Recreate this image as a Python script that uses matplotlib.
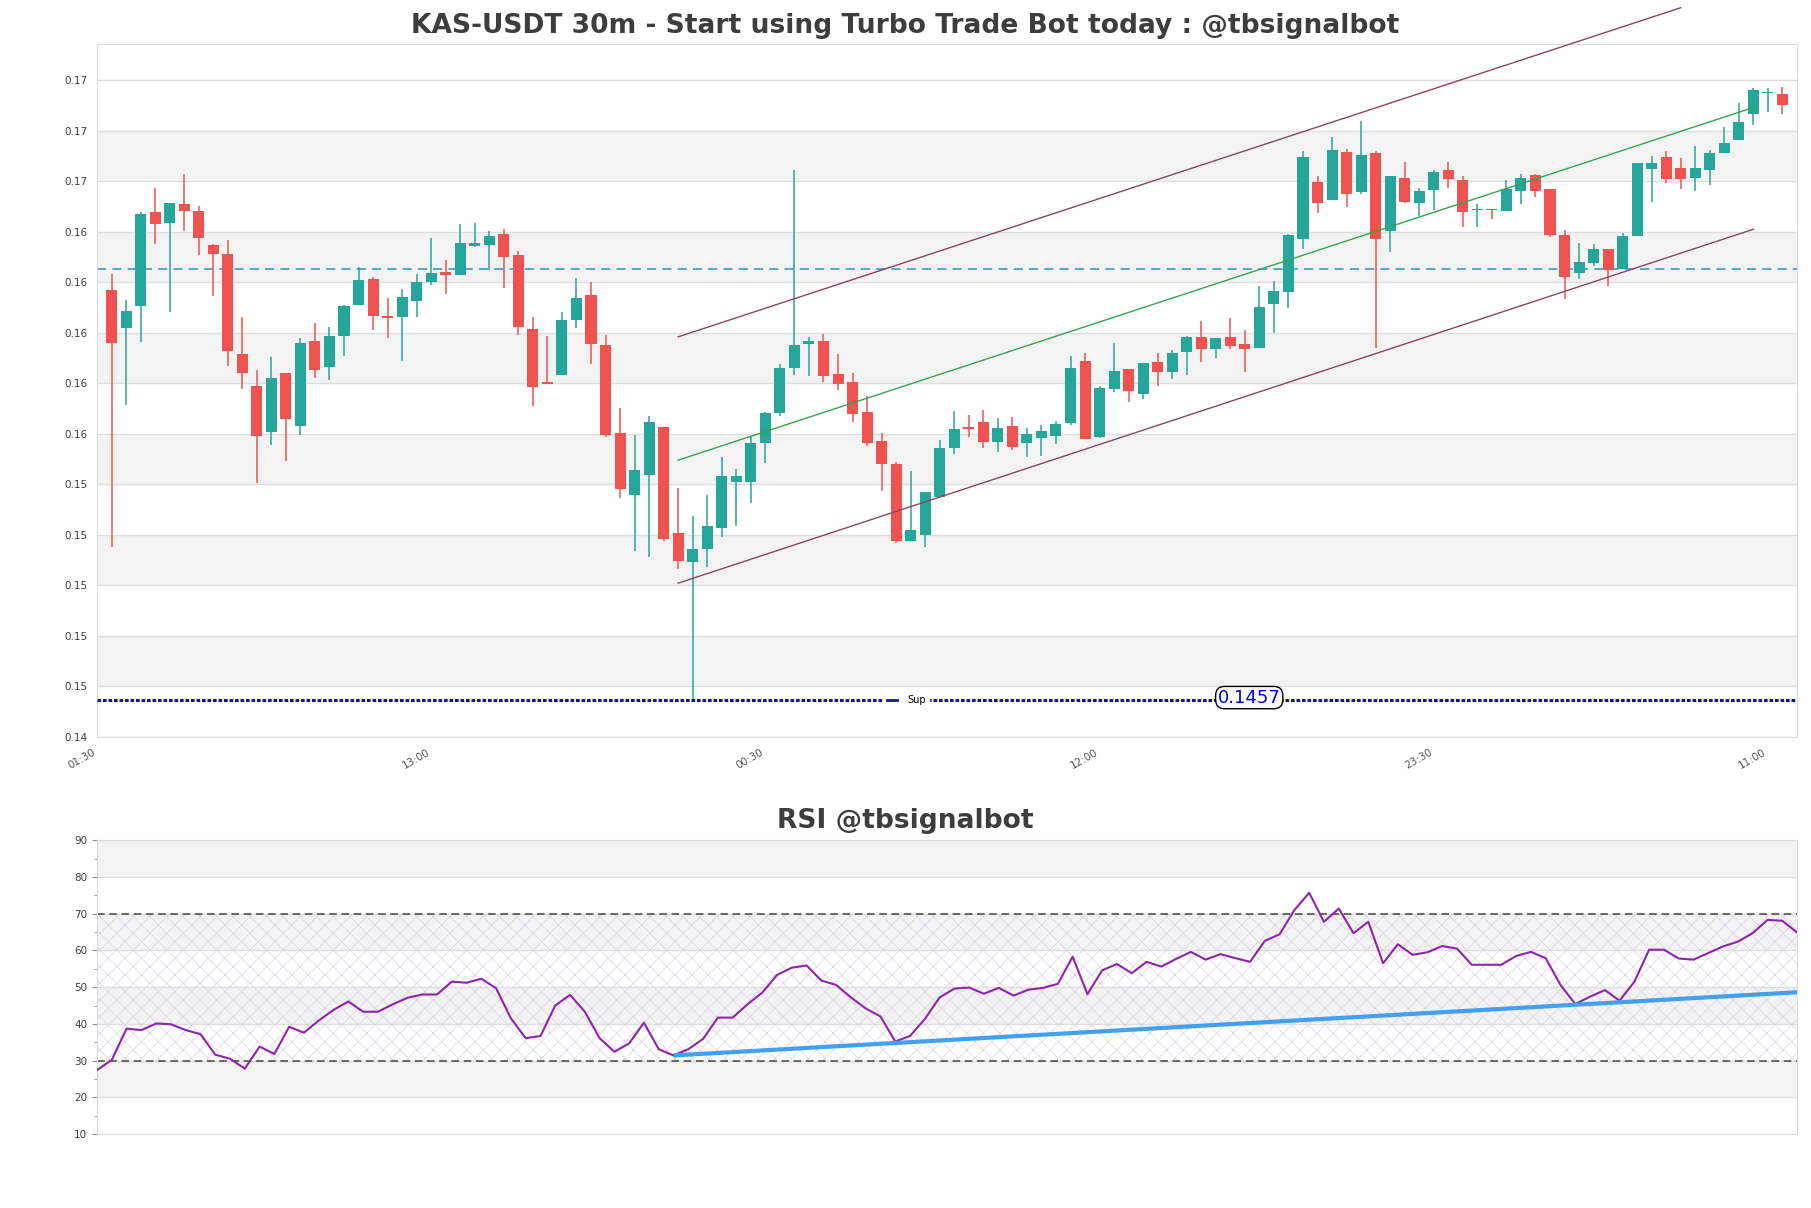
import matplotlib
matplotlib.use('Agg')
import matplotlib.pyplot as plt
from matplotlib.lines import Line2D
import numpy as np

# ---------------- data ----------------
opens = [0.16171, 0.16021, 0.16105, 0.16480, 0.16434, 0.16508, 0.16484, 0.16349, 0.16313, 0.15917,
         0.15790, 0.15609, 0.15842, 0.15633, 0.15969, 0.15863, 0.15986, 0.16109, 0.16214, 0.16065,
         0.16063, 0.16126, 0.16201, 0.16239, 0.16229, 0.16343, 0.16347, 0.16393, 0.16310, 0.16014,
         0.15804, 0.15833, 0.16052, 0.16151, 0.15951, 0.15602, 0.15359, 0.15437, 0.15627, 0.15208,
         0.15094, 0.15146, 0.15229, 0.15408, 0.15408, 0.15562, 0.15681, 0.15859, 0.15954, 0.15969,
         0.15838, 0.15806, 0.15687, 0.15572, 0.15481, 0.15177, 0.15200, 0.15349, 0.15546, 0.15629,
         0.15648, 0.15566, 0.15631, 0.15562, 0.15585, 0.15593, 0.15644, 0.15888, 0.15589, 0.15778,
         0.15856, 0.15758, 0.15884, 0.15845, 0.15924, 0.15982, 0.15936, 0.15982, 0.15955, 0.15940,
         0.16114, 0.16160, 0.16372, 0.16596, 0.16527, 0.16714, 0.16558, 0.16710, 0.16403, 0.16612,
         0.16514, 0.16565, 0.16643, 0.16604, 0.16488, 0.16492, 0.16482, 0.16562, 0.16623, 0.16568,
         0.16386, 0.16237, 0.16278, 0.16330, 0.16251, 0.16383, 0.16647, 0.16697, 0.16654, 0.16612,
         0.16643, 0.16711, 0.16762, 0.16868, 0.16950, 0.16946]
highs = [0.16234, 0.16131, 0.16480, 0.16575, 0.16515, 0.16630, 0.16504, 0.16352, 0.16366, 0.16061,
         0.15854, 0.15905, 0.15842, 0.15979, 0.16040, 0.16024, 0.16111, 0.16259, 0.16220, 0.16139,
         0.16175, 0.16231, 0.16374, 0.16289, 0.16432, 0.16436, 0.16404, 0.16412, 0.16324, 0.16064,
         0.15986, 0.16081, 0.16216, 0.16200, 0.15990, 0.15704, 0.15595, 0.15670, 0.15627, 0.15387,
         0.15275, 0.15358, 0.15509, 0.15461, 0.15593, 0.15688, 0.15877, 0.16644, 0.15982, 0.15996,
         0.15917, 0.15840, 0.15748, 0.15603, 0.15488, 0.15453, 0.15370, 0.15576, 0.15691, 0.15673,
         0.15695, 0.15661, 0.15666, 0.15622, 0.15635, 0.15651, 0.15907, 0.15922, 0.15790, 0.15959,
         0.15856, 0.15880, 0.15920, 0.15932, 0.15989, 0.16047, 0.15980, 0.16057, 0.16010, 0.16184,
         0.16204, 0.16393, 0.16718, 0.16620, 0.16774, 0.16729, 0.16840, 0.16720, 0.16620, 0.16675,
         0.16575, 0.16643, 0.16675, 0.16622, 0.16508, 0.16492, 0.16604, 0.16627, 0.16627, 0.16568,
         0.16409, 0.16355, 0.16351, 0.16330, 0.16395, 0.16674, 0.16701, 0.16721, 0.16693, 0.16741,
         0.16725, 0.16816, 0.16911, 0.16970, 0.16970, 0.16974]
lows = [0.15154, 0.15715, 0.15962, 0.16353, 0.16081, 0.16402, 0.16309, 0.16144, 0.15867, 0.15777,
        0.15407, 0.15554, 0.15494, 0.15596, 0.15823, 0.15814, 0.15910, 0.16109, 0.16012, 0.15978,
        0.15889, 0.16063, 0.16191, 0.16154, 0.16229, 0.16341, 0.16250, 0.16177, 0.15992, 0.15711,
        0.15798, 0.15833, 0.16020, 0.15877, 0.15588, 0.15347, 0.15138, 0.15114, 0.15177, 0.15067,
        0.14548, 0.15072, 0.15193, 0.15237, 0.15328, 0.15486, 0.15669, 0.15834, 0.15831, 0.15807,
        0.15772, 0.15645, 0.15550, 0.15375, 0.15167, 0.15177, 0.15151, 0.15349, 0.15521, 0.15587,
        0.15545, 0.15530, 0.15536, 0.15510, 0.15514, 0.15558, 0.15635, 0.15581, 0.15585, 0.15765,
        0.15727, 0.15739, 0.15790, 0.15818, 0.15832, 0.15885, 0.15901, 0.15936, 0.15845, 0.15940,
        0.16001, 0.16100, 0.16330, 0.16475, 0.16527, 0.16498, 0.16551, 0.15938, 0.16320, 0.16515,
        0.16464, 0.16485, 0.16573, 0.16419, 0.16419, 0.16451, 0.16482, 0.16510, 0.16538, 0.16380,
        0.16132, 0.16212, 0.16264, 0.16186, 0.16251, 0.16383, 0.16517, 0.16592, 0.16568, 0.16561,
        0.16584, 0.16711, 0.16762, 0.16821, 0.16875, 0.16868]
closes = [0.15959, 0.16087, 0.16472, 0.16430, 0.16515, 0.16481, 0.16374, 0.16311, 0.15930, 0.15839,
          0.15593, 0.15822, 0.15657, 0.15961, 0.15851, 0.15988, 0.16107, 0.16210, 0.16065, 0.16059,
          0.16143, 0.16202, 0.16235, 0.16229, 0.16357, 0.16354, 0.16382, 0.16300, 0.16023, 0.15786,
          0.15798, 0.16050, 0.16139, 0.15956, 0.15595, 0.15383, 0.15457, 0.15646, 0.15185, 0.15098,
          0.15144, 0.15235, 0.15434, 0.15434, 0.15564, 0.15683, 0.15862, 0.15953, 0.15969, 0.15831,
          0.15799, 0.15677, 0.15562, 0.15482, 0.15177, 0.15220, 0.15370, 0.15545, 0.15620, 0.15621,
          0.15567, 0.15623, 0.15549, 0.15601, 0.15611, 0.15639, 0.15860, 0.15581, 0.15781, 0.15848,
          0.15770, 0.15880, 0.15845, 0.15919, 0.15982, 0.15934, 0.15978, 0.15948, 0.15934, 0.16101,
          0.16164, 0.16386, 0.16695, 0.16514, 0.16722, 0.16550, 0.16703, 0.16372, 0.16620, 0.16518,
          0.16560, 0.16635, 0.16609, 0.16479, 0.16492, 0.16486, 0.16568, 0.16612, 0.16562, 0.16386,
          0.16222, 0.16279, 0.16330, 0.16249, 0.16382, 0.16674, 0.16674, 0.16608, 0.16608, 0.16654,
          0.16713, 0.16753, 0.16836, 0.16962, 0.16954, 0.16900]

rsi = [27.4, 30.2, 38.7, 38.3, 40.1, 39.9, 38.3, 37.2, 31.6, 30.5,
       27.8, 33.8, 31.8, 39.2, 37.6, 40.9, 43.8, 46.1, 43.3, 43.3,
       45.3, 47.1, 48.0, 48.0, 51.5, 51.2, 52.3, 49.7, 41.5, 36.1,
       36.7, 45.0, 47.9, 43.3, 36.1, 32.4, 34.7, 40.3, 33.1, 31.4,
       33.1, 35.9, 41.7, 41.7, 45.3, 48.5, 53.3, 55.3, 55.9, 51.8,
       50.6, 47.2, 44.2, 42.0, 35.2, 36.7, 41.3, 47.2, 49.6, 49.9,
       48.2, 49.8, 47.7, 49.3, 49.8, 50.9, 58.3, 48.1, 54.6, 56.3,
       53.8, 56.9, 55.6, 57.7, 59.6, 57.5, 59.0, 57.9, 56.9, 62.6,
       64.4, 71.0, 75.7, 67.8, 71.4, 64.7, 67.8, 56.5, 61.7, 58.8,
       59.5, 61.2, 60.5, 56.1, 56.1, 56.1, 58.5, 59.6, 57.9, 50.6,
       45.4, 47.4, 49.2, 46.3, 51.5, 60.2, 60.2, 57.8, 57.5, 59.3,
       61.1, 62.4, 64.7, 68.3, 68.1, 64.9]

xtick_pos = [-1, 22, 45, 68, 91, 114]
xtick_labels = ['01:30', '13:00', '00:30', '12:00', '23:30', '11:00']

support_level = 0.14548
support_label = '0.1457'
support_label_x = 78.3
resistance_level = 0.16253

channel_x = [39, 113]
channel_lower = [0.15009, 0.16410]
channel_mid = [0.15496, 0.16892]
channel_upper_x = [39, 108]
channel_upper = [0.15984, 0.17287]

rsi_trend_x = [39, 115]
rsi_trend_y = [31.4, 48.6]

price_ticks = [0.144, 0.146, 0.148, 0.150, 0.152, 0.154, 0.156, 0.158, 0.160, 0.162, 0.164, 0.166, 0.168, 0.170]
rsi_ticks = [10, 20, 30, 40, 50, 60, 70, 80, 90]

title_main = 'KAS-USDT 30m - Start using Turbo Trade Bot today : @tbsignalbot'
title_rsi = 'RSI @tbsignalbot'

# ---------------- style ----------------
UP = '#26a69a'
DOWN = '#ef5350'
BAND = '#f3f3f3'
GRID = '#dedede'
SPINE = '#dcdcdc'
TXT = '#3d3d3d'

plt.rcParams['font.family'] = ['DejaVu Sans']
plt.rcParams['hatch.linewidth'] = 0.5

fig = plt.figure(figsize=(18.11, 12.08), dpi=100)
ax = fig.add_axes([0.05356, 0.38990, 0.93871, 0.57376])
ax2 = fig.add_axes([0.05356, 0.06126, 0.93871, 0.24313])

n = len(opens)
x = np.arange(n)
o = np.array(opens); h = np.array(highs); l = np.array(lows); c = np.array(closes)
up = c >= o
cols = np.where(up, UP, DOWN)

ymin = min(lows) * 0.99
ymax = max(highs) * 1.01

# bands + grid
for i in range(1, len(price_ticks) - 1, 2):
    ax.axhspan(price_ticks[i], price_ticks[i + 1], color=BAND, zorder=0, lw=0)
for t in price_ticks:
    ax.axhline(t, color=GRID, lw=1, zorder=0.5)

# candles
ax.vlines(x, l, h, colors=cols, lw=1.1, zorder=2)
body_bottom = np.minimum(o, c)
body_h = np.maximum(np.abs(c - o), 0.00004)
ax.bar(x, body_h, bottom=body_bottom, width=0.76, color=cols, edgecolor=cols, lw=0, zorder=3)

# resistance dashed line
ax.axhline(resistance_level, color='#2b8fd6', lw=1.1, ls=(0, (6, 4)), zorder=1.5)

# channel lines
ax.plot(channel_upper_x, channel_upper, color='#8a4466', lw=1.0, zorder=4, clip_on=False)
ax.plot(channel_x, channel_mid, color='#36a350', lw=1.0, zorder=4, clip_on=False)
ax.plot(channel_x, channel_lower, color='#8a4466', lw=1.0, zorder=4, clip_on=False)

# support line
ax.axhline(support_level, color='#1010b0', lw=2.2, ls=(0, (1.2, 0.6)), zorder=4)
handle = Line2D([], [], color='#1010b0', lw=2)
leg = ax.legend([handle], ['Sup'], loc='center', bbox_to_anchor=(0.476, 0.053), fontsize=7,
                frameon=True, framealpha=1, facecolor='white', edgecolor='white',
                handlelength=1.1, handletextpad=1.0, borderpad=0.35)
leg.set_zorder(5)
ax.text(support_label_x, support_level + 0.00008, support_label, color='#0000dd', fontsize=13,
        ha='center', va='center', zorder=6,
        bbox=dict(boxstyle='round,pad=0.12,rounding_size=0.5', fc='white', ec='black', lw=1))

ax.set_xlim(-1, 116)
ax.set_ylim(ymin, ymax)
ax.set_yticks(price_ticks)
ax.set_yticklabels(['%.2f' % t for t in price_ticks])
ax.set_xticks(xtick_pos)
ax.set_xticklabels(xtick_labels, rotation=30, ha='right')
ax.tick_params(axis='y', labelsize=7.5, colors=TXT, length=3.5, color='white')
ax.tick_params(axis='x', labelsize=7.5, colors='#555555', length=3.5, color='white')
for s in ax.spines.values():
    s.set_color(SPINE)

fig.text(0.5, 0.9785, title_main, ha='center', va='center', fontsize=19.1,
         fontweight='bold', color=TXT)

# ---------------- RSI ----------------
xr = np.arange(len(rsi))
for i in range(1, len(rsi_ticks) - 1, 2):
    ax2.axhspan(rsi_ticks[i], rsi_ticks[i + 1], color=BAND, zorder=0, lw=0)
for t in rsi_ticks:
    ax2.axhline(t, color=GRID, lw=1, zorder=0.5)
ax2.fill_between([0, len(rsi) - 1], 30, 70, facecolor='none', hatch='xx',
                 edgecolor='#ddd0e6', linewidth=0, zorder=0.7)
ax2.axhline(70, color='#444444', lw=1.1, ls=(0, (5, 3)), zorder=1)
ax2.axhline(30, color='#444444', lw=1.1, ls=(0, (5, 3)), zorder=1)
ax2.plot(xr, rsi, color='#8e24aa', lw=1.5, zorder=3)
ax2.plot(rsi_trend_x, rsi_trend_y, color='#42a0f0', lw=3, zorder=4, solid_capstyle='butt')
ax2.set_xlim(0, len(rsi) - 1)
ax2.set_ylim(10, 90)
ax2.set_yticks(rsi_ticks)
ax2.set_yticks(np.arange(15, 90, 10), minor=True)
ax2.set_xticks([])
ax2.tick_params(axis='y', which='major', labelsize=7.5, colors=TXT, length=3.5, color='#888888')
ax2.tick_params(axis='y', which='minor', length=2.5, color='#888888')
for s in ax2.spines.values():
    s.set_color(SPINE)

fig.text(0.5, 0.3205, title_rsi, ha='center', va='center', fontsize=19.1,
         fontweight='bold', color=TXT)

fig.savefig('out.png', dpi=100)
